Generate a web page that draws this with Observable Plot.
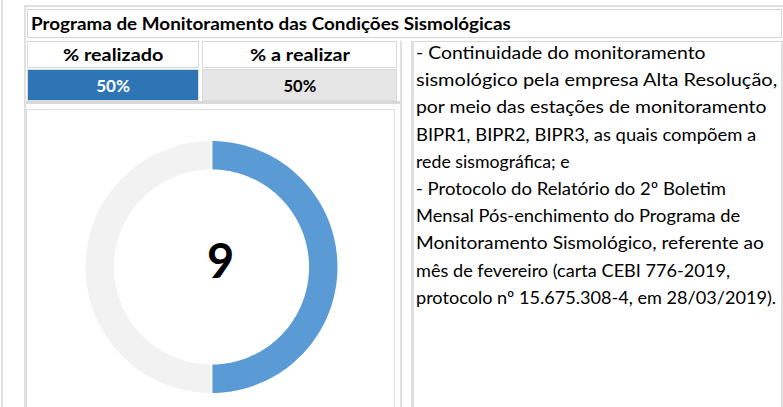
<!DOCTYPE html>
<html>
<head>
<meta charset="utf-8">
<script src="https://cdn.jsdelivr.net/npm/d3@7"></script>
<script src="https://cdn.jsdelivr.net/npm/@observablehq/plot@0.6"></script>
<style>
  html, body { margin: 0; padding: 0; background: #fff; }
  body { width: 783px; height: 407px; overflow: hidden; position: relative; font-family: Lato, "Open Sans", sans-serif; color: #000; }
  .abs { position: absolute; box-sizing: border-box; }
  .cell { display: flex; align-items: center; justify-content: center; font-weight: bold; font-size: 17px; }
  .fit { display: inline-block; white-space: nowrap; transform-origin: center center; }
  #notes div { position: absolute; left: 0; white-space: nowrap; font-size: 17.5px; line-height: 24px; transform-origin: left center; }
</style>
</head>
<body>
<script>
// ---- data ----
const titleText = "Programa de Monitoramento das Condições Sismológicas";
const tableHeaders = ["% realizado", "% a realizar"];
const tableValues = ["50%", "50%"];
const sliceLabels = ["% realizado", "% a realizar"];
const sliceValues = [50, 50];
const sliceColors = ["#5b9bd5", "#f2f2f2"];
const centerLabel = ["9"];
const noteLines = [
  "- Continuidade do monitoramento",
  "sismológico pela empresa Alta Resolução,",
  "por meio das estações de monitoramento",
  "BIPR1, BIPR2, BIPR3, as quais compõem a",
  "rede sismográfica; e",
  "- Protocolo do Relatório do 2º Boletim",
  "Mensal Pós-enchimento do Programa de",
  "Monitoramento Sismológico, referente ao",
  "mês de fevereiro (carta CEBI 776-2019,",
  "protocolo nº 15.675.308-4, em 28/03/2019)."
];

// ---- layout (pixel widths of the Calibri text in the original) ----
const noteWidths = [290, 361, 351, 340, 154, 310, 324, 348, 314, 360];
const headerWidths = [100, 100];
const valueWidths = [34, 33];
const titleWidth = 480;

function box(left, top, width, height, style) {
  const d = document.createElement("div");
  d.className = "abs";
  Object.assign(d.style, {left: left + "px", top: top + "px", width: width + "px", height: height + "px"}, style || {});
  document.body.appendChild(d);
  return d;
}
function fit(el, w) { el.style.transform = `scaleX(${w / el.offsetWidth})`; }
const lineColor = "#e0e0e0";

// frame lines
box(1, 0, 2, 407, {background: lineColor});
box(24, 5, 759, 2, {background: lineColor});
box(24, 5, 2, 402, {background: lineColor});

// title
const titleBox = box(27, 9, 755, 29, {border: "1px solid #d4d4d4", background: "#fff"});
titleBox.innerHTML = `<span class="fit" id="title" style="position:absolute;left:3px;top:4px;font-weight:bold;font-size:16.5px;transform-origin:left center;">${titleText}</span>`;

// table
const colX = [27, 202];
const colW = [172, 195];
const headerSpans = [], valueSpans = [];
tableHeaders.forEach((h, i) => {
  const c = box(colX[i], 41, colW[i], 27, {border: "1px solid #d9d9d9", background: "#fff"});
  c.classList.add("cell");
  c.innerHTML = `<span class="fit">${h}</span>`;
  headerSpans.push(c.firstChild);
});
const valueBg = ["#2e75b6", "#e7e6e6"];
const valueFg = ["#fff", "#000"];
tableValues.forEach((v, i) => {
  const c = box(colX[i], 69, colW[i], 32, {border: "1px solid #d9d9d9", background: valueBg[i], color: valueFg[i]});
  c.classList.add("cell");
  c.innerHTML = `<span class="fit">${v}</span>`;
  valueSpans.push(c.firstChild);
});
box(26, 101, 374, 3, {background: "#d9d9d9"});

// text column frame
box(400, 41, 2, 366, {background: lineColor});
box(411, 41, 372, 380, {borderLeft: "3px solid #e0e0e0", borderTop: "1px solid #d9d9d9", borderRight: "2px solid #e0e0e0"});

// notes
const notes = box(416, 41, 366, 366, {});
notes.id = "notes";
noteLines.forEach((t, i) => {
  const d = document.createElement("div");
  d.textContent = t;
  d.style.top = (i * 27.2) + "px";
  notes.appendChild(d);
});

// donut box
box(26, 109, 369, 310, {border: "1px solid #dedede", background: "#fff"});

// ---- donut chart ----
const pie = d3.pie().sort(null).value(d => d.value);
const arcs = pie(sliceLabels.map((k, i) => ({key: k, value: sliceValues[i], color: sliceColors[i]})));
const rOuter = 1, rInner = 0.764, steps = 120;
const pts = [];
for (const a of arcs) {
  for (let s = 0; s <= steps; s++) {
    const t = a.startAngle + (a.endAngle - a.startAngle) * s / steps;
    pts.push({key: a.data.key, color: a.data.color, x: rOuter * Math.sin(t), y: rOuter * Math.cos(t)});
  }
  for (let s = steps; s >= 0; s--) {
    const t = a.startAngle + (a.endAngle - a.startAngle) * s / steps;
    pts.push({key: a.data.key, color: a.data.color, x: rInner * Math.sin(t), y: rInner * Math.cos(t)});
  }
}

const chart = Plot.plot({
  width: 369,
  height: 297,
  marginLeft: 58.3,
  marginRight: 57.3,
  marginTop: 29.8,
  marginBottom: 13.8,
  x: {domain: [-1, 1], axis: null},
  y: {domain: [-1, 1], axis: null},
  color: {type: "identity"},
  style: {background: "transparent", overflow: "visible", fontFamily: "Lato, sans-serif"},
  marks: [
    Plot.line(pts, {x: "x", y: "y", z: "key", fill: "color", stroke: "white", strokeWidth: 1.5, curve: "linear-closed"}),
    Plot.text(centerLabel, {frameAnchor: "middle", text: d => d, fontSize: 47, fontWeight: "bold", dx: 9, dy: -4, fill: "#000"})
  ]
});
chart.style.position = "absolute";
chart.style.left = "26px";
chart.style.top = "110px";
document.body.appendChild(chart);

// ---- horizontal fitting to the original text widths ----
Array.from(notes.children).forEach((d, i) => fit(d, noteWidths[i]));
headerSpans.forEach((s, i) => fit(s, headerWidths[i]));
valueSpans.forEach((s, i) => fit(s, valueWidths[i]));
fit(document.getElementById("title"), titleWidth);
</script>
</body>
</html>
